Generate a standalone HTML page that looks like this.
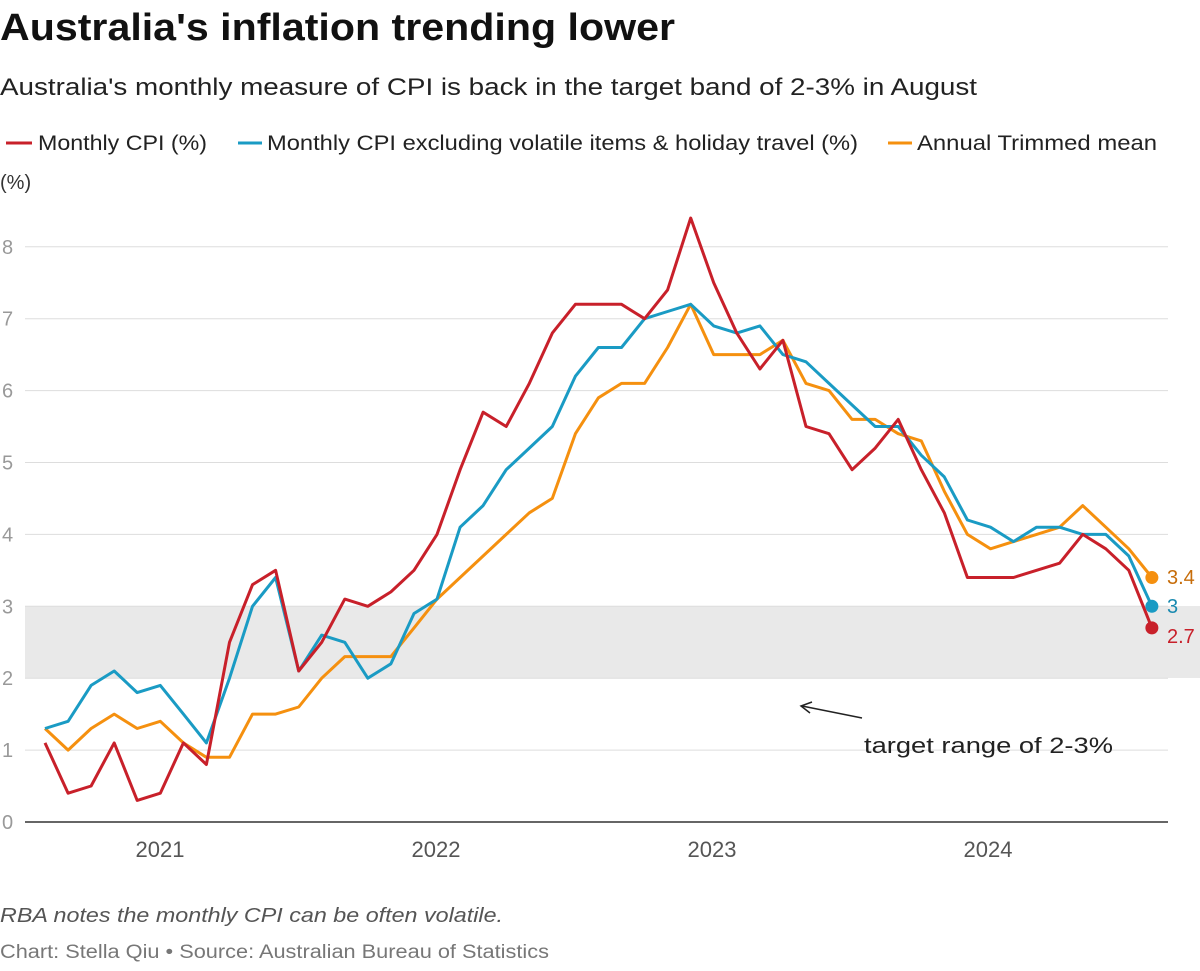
<!DOCTYPE html>
<html><head><meta charset="utf-8"><style>
body{margin:0;background:#fff;width:1200px;height:966px;overflow:hidden;font-family:"Liberation Sans",sans-serif;}
</style></head><body>
<svg width="1200" height="966" xmlns="http://www.w3.org/2000/svg" font-family="Liberation Sans, sans-serif">
<text x="0" y="40" font-size="38" font-weight="bold" fill="#111" textLength="675" lengthAdjust="spacingAndGlyphs">Australia's inflation trending lower</text>
<text x="0" y="95" font-size="24" fill="#222" textLength="977" lengthAdjust="spacingAndGlyphs">Australia's monthly measure of CPI is back in the target band of 2-3% in August</text>
<g font-size="21" fill="#222">
<line x1="6" y1="143" x2="32" y2="143" stroke="#c8202a" stroke-width="3"/><text x="38" y="150" textLength="169" lengthAdjust="spacingAndGlyphs">Monthly CPI (%)</text>
<line x1="238" y1="143" x2="262" y2="143" stroke="#1a9bc4" stroke-width="3"/><text x="267" y="150" textLength="591" lengthAdjust="spacingAndGlyphs">Monthly CPI excluding volatile items &amp; holiday travel (%)</text>
<line x1="888" y1="143" x2="912" y2="143" stroke="#f5900f" stroke-width="3"/><text x="917" y="150" textLength="240" lengthAdjust="spacingAndGlyphs">Annual Trimmed mean</text>
</g>
<text x="0" y="189" font-size="20" fill="#333">(%)</text>
<rect x="25" y="606" width="1175" height="72" fill="#e9e9e9"/>
<g id="grid" stroke="#ddd" stroke-width="1"></g>
<g id="yl" font-size="20" fill="#999"></g>
<line x1="25" y1="822" x2="1168" y2="822" stroke="#333" stroke-width="1.5"/>
<g font-size="22" fill="#555" text-anchor="middle">
<text x="160" y="857">2021</text><text x="436" y="857">2022</text><text x="712" y="857">2023</text><text x="988" y="857">2024</text>
</g>
<g id="series"></g>
<line x1="862" y1="718" x2="802" y2="706" stroke="#222" stroke-width="1.5"/>
<path d="M812 702 L801 706 L810 713" fill="none" stroke="#222" stroke-width="1.5"/>
<text x="864" y="753" font-size="22" fill="#222" textLength="249" lengthAdjust="spacingAndGlyphs">target range of 2-3%</text>
<text x="1167" y="584" font-size="20" fill="#c76d0a">3.4</text>
<text x="1167" y="613" font-size="20" fill="#1a8ab0">3</text>
<text x="1167" y="643" font-size="20" fill="#c8202a">2.7</text>
<text x="0" y="922" font-size="20" font-style="italic" fill="#555" textLength="503" lengthAdjust="spacingAndGlyphs">RBA notes the monthly CPI can be often volatile.</text>
<text x="0" y="958" font-size="19" fill="#777" textLength="549" lengthAdjust="spacingAndGlyphs">Chart: Stella Qiu • Source: Australian Bureau of Statistics</text>
</svg>
<script>
var Y=v=>822-v*71.9, X=i=>45+i*23.06;
var ns="http://www.w3.org/2000/svg";
var g=document.getElementById('grid'),yl=document.getElementById('yl');
for(var v=1;v<=8;v++){var l=document.createElementNS(ns,'line');l.setAttribute('x1',25);l.setAttribute('x2',1168);l.setAttribute('y1',Y(v));l.setAttribute('y2',Y(v));g.appendChild(l);}
for(var v=0;v<=8;v++){var t=document.createElementNS(ns,'text');t.setAttribute('x',2);t.setAttribute('y',Y(v)+7);t.textContent=v;yl.appendChild(t);}
var red=[1.1,0.4,0.5,1.1,0.3,0.4,1.1,0.8,2.5,3.3,3.5,2.1,2.5,3.1,3.0,3.2,3.5,4.0,4.9,5.7,5.5,6.1,6.8,7.2,7.2,7.2,7.0,7.4,8.4,7.5,6.8,6.3,6.7,5.5,5.4,4.9,5.2,5.6,4.9,4.3,3.4,3.4,3.4,3.5,3.6,4.0,3.8,3.5,2.7];
var blue=[1.3,1.4,1.9,2.1,1.8,1.9,1.5,1.1,2.0,3.0,3.4,2.1,2.6,2.5,2.0,2.2,2.9,3.1,4.1,4.4,4.9,5.2,5.5,6.2,6.6,6.6,7.0,7.1,7.2,6.9,6.8,6.9,6.5,6.4,6.1,5.8,5.5,5.5,5.1,4.8,4.2,4.1,3.9,4.1,4.1,4.0,4.0,3.7,3.0];
var orng=[1.3,1.0,1.3,1.5,1.3,1.4,1.1,0.9,0.9,1.5,1.5,1.6,2.0,2.3,2.3,2.3,2.7,3.1,3.4,3.7,4.0,4.3,4.5,5.4,5.9,6.1,6.1,6.6,7.2,6.5,6.5,6.5,6.7,6.1,6.0,5.6,5.6,5.4,5.3,4.6,4.0,3.8,3.9,4.0,4.1,4.4,4.1,3.8,3.4];
var s=document.getElementById('series');
[[orng,'#f5900f'],[blue,'#1a9bc4'],[red,'#c8202a']].forEach(function(d){
var p=document.createElementNS(ns,'polyline');p.setAttribute('points',d[0].map((v,i)=>X(i).toFixed(1)+','+Y(v).toFixed(1)).join(' '));
p.setAttribute('fill','none');p.setAttribute('stroke',d[1]);p.setAttribute('stroke-width',3);p.setAttribute('stroke-linejoin','round');s.appendChild(p);
var c=document.createElementNS(ns,'circle');c.setAttribute('cx',X(48));c.setAttribute('cy',Y(d[0][48]));c.setAttribute('r',6.5);c.setAttribute('fill',d[1]);s.appendChild(c);});
</script>
</body></html>
